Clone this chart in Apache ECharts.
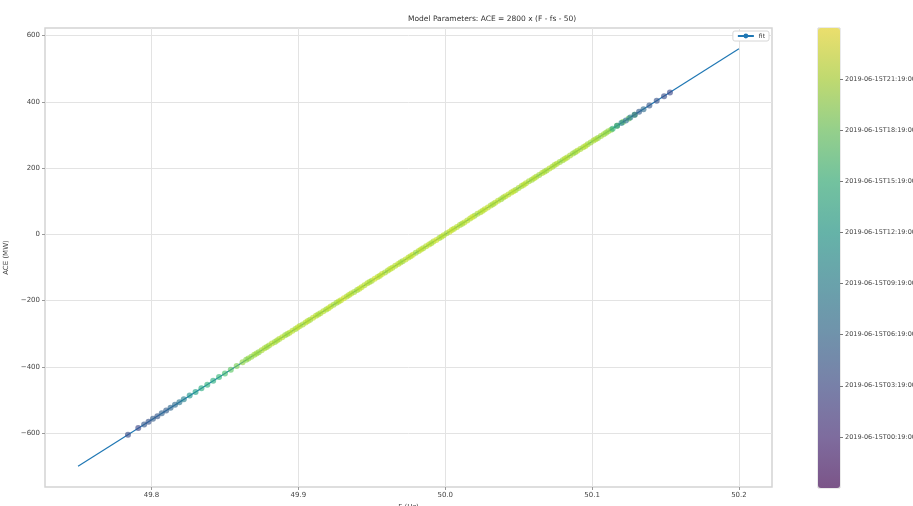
<!DOCTYPE html>
<html>
<head>
<meta charset="utf-8">
<script src="https://cdn.jsdelivr.net/npm/echarts@6/dist/echarts.min.js"></script>
<style>
  html, body { margin: 0; padding: 0; background: #fff; }
  #chart { width: 913px; height: 506px; }
</style>
</head>
<body>
<div id="chart"></div>
<script>
// Frequency readings (Hz), matching ACE values (MW) and hours since 2019-06-15T00:19:00.
// Points are listed in drawing order.
const freqHz = [
  // low-frequency tail
  49.784, 49.791, 49.795, 49.798, 49.801, 49.804, 49.807, 49.810, 49.813, 49.816,
  49.819, 49.822, 49.826, 49.830, 49.834, 49.838, 49.842, 49.846, 49.850, 49.854,
  49.858, 49.862,
  // main body
  49.866, 49.870, 49.873, 49.877, 49.880, 49.884, 49.887, 49.891, 49.894, 49.898,
  49.901, 49.905, 49.908, 49.912, 49.915, 49.919, 49.922, 49.926, 49.929, 49.933,
  49.936, 49.940, 49.943, 49.947, 49.950, 49.954, 49.957, 49.961, 49.964, 49.968,
  49.971, 49.975, 49.978, 49.982, 49.985, 49.989, 49.992, 49.996, 49.999, 50.003,
  50.006, 50.010, 50.013, 50.017, 50.020, 50.024, 50.027, 50.031, 50.034, 50.038,
  50.041, 50.045, 50.048, 50.052, 50.055, 50.059, 50.062, 50.066, 50.069, 50.073,
  50.076, 50.080, 50.083, 50.087, 50.090, 50.094, 50.097, 50.101, 50.104, 50.108,
  50.111,
  49.8645, 49.8680, 49.8715, 49.8750, 49.8785, 49.8820, 49.8855, 49.8890, 49.8925, 49.8960,
  49.8995, 49.9030, 49.9065, 49.9100, 49.9135, 49.9170, 49.9205, 49.9240, 49.9275, 49.9310,
  49.9345, 49.9380, 49.9415, 49.9450, 49.9485, 49.9520, 49.9555, 49.9590, 49.9625, 49.9660,
  49.9695, 49.9730, 49.9765, 49.9800, 49.9835, 49.9870, 49.9905, 49.9940, 49.9975, 50.0010,
  50.0045, 50.0080, 50.0115, 50.0150, 50.0185, 50.0220, 50.0255, 50.0290, 50.0325, 50.0360,
  50.0395, 50.0430, 50.0465, 50.0500, 50.0535, 50.0570, 50.0605, 50.0640, 50.0675, 50.0710,
  50.0745, 50.0780, 50.0815, 50.0850, 50.0885, 50.0920, 50.0955, 50.0990, 50.1025, 50.1060,
  50.1095, 50.1130, 50.1170, 50.1210, 50.1250, 50.1290,
  // high-frequency tail
  50.114, 50.117, 50.120, 50.123, 50.126, 50.129, 50.132, 50.135, 50.139, 50.144,
  50.149, 50.153
];
const aceMW = [
  -605, -585, -574, -566, -557, -549, -540, -532, -524, -515,
  -507, -498, -487, -476, -465, -454, -442, -431, -420, -409,
  -398, -386,
  -375, -364, -356, -344, -336, -325, -316, -305, -297, -286,
  -277, -266, -258, -246, -238, -227, -218, -207, -199, -188,
  -179, -168, -160, -148, -140, -129, -120, -109, -101, -90,
  -81, -70, -62, -50, -42, -31, -22, -11, -3, 8,
  17, 28, 36, 48, 56, 67, 76, 87, 95, 106,
  115, 126, 134, 146, 154, 165, 174, 185, 193, 204,
  213, 224, 232, 244, 252, 263, 272, 283, 291, 302,
  311,
  -379, -370, -360, -350, -340, -330, -321, -311, -301, -291,
  -281, -272, -262, -252, -242, -232, -223, -213, -203, -193,
  -183, -174, -164, -154, -144, -134, -125, -115, -105, -95,
  -85, -76, -66, -56, -46, -36, -27, -17, -7, 3,
  13, 22, 32, 42, 52, 62, 71, 81, 91, 101,
  111, 120, 130, 140, 150, 160, 169, 179, 189, 199,
  209, 218, 228, 238, 248, 258, 267, 277, 287, 297,
  307, 316, 328, 339, 350, 361,
  319, 328, 336, 344, 353, 361, 370, 378, 389, 403,
  417, 428
];
const hoursElapsed = [
  3.5, 3.0, 4.5, 4.0, 5.0, 4.5, 5.5, 5.0, 6.0, 6.5,
  7.5, 9.0, 11.0, 12.5, 13.5, 14.5, 14.0, 15.0, 16.0, 17.0,
  18.5, 19.5,
  19.5, 20.0, 19.0, 20.5, 20.0, 19.5, 20.5, 20.0, 21.0, 20.0,
  20.5, 21.0, 20.0, 21.0, 20.5, 20.0, 21.0, 20.0, 21.5, 20.5,
  21.0, 20.0, 21.5, 21.0, 20.5, 21.0, 22.0, 20.5, 21.0, 21.5,
  20.0, 21.0, 22.0, 21.0, 20.5, 21.5, 21.0, 20.0, 21.0, 22.0,
  21.0, 20.5, 21.5, 21.0, 20.0, 21.0, 21.5, 20.5, 21.0, 20.0,
  21.5, 21.0, 20.0, 20.5, 21.0, 20.0, 20.5, 21.0, 20.0, 20.5,
  21.0, 20.0, 20.5, 20.0, 21.0, 20.5, 20.0, 20.5, 19.5, 20.0,
  19.5,
  19.0, 19.5, 20.0, 20.5, 20.0, 21.0, 20.5, 21.0, 20.0, 21.0,
  21.5, 20.5, 21.0, 21.5, 20.5, 21.0, 21.5, 20.5, 21.0, 22.0,
  21.0, 20.5, 21.5, 21.0, 20.5, 22.0, 21.0, 20.5, 21.5, 21.0,
  20.5, 21.5, 21.0, 20.0, 21.5, 21.0, 20.5, 22.0, 21.0, 20.5,
  21.5, 21.0, 20.5, 21.0, 22.0, 20.5, 21.0, 21.5, 20.5, 21.0,
  20.5, 21.0, 21.5, 20.5, 21.0, 20.5, 21.0, 20.0, 20.5, 21.0,
  20.5, 20.0, 21.0, 20.5, 20.0, 20.5, 21.0, 20.0, 20.5, 20.0,
  19.5, 19.5, 19.0, 18.5, 18.0, 17.0,
  14.0, 11.0, 9.0, 7.0, 8.0, 6.0, 5.0, 6.5, 4.5, 4.0,
  3.5, 3.0
];

// Model line ACE = 2800 x (F - 50), end points
const modelFreq = [49.75, 50.2];
const modelAce = [-700, 560];

// Tick labels
const xTicks = [49.8, 49.9, 50.0, 50.1, 50.2];
const xTickLabels = ['49.8', '49.9', '50.0', '50.1', '50.2'];
const yTicks = [-600, -400, -200, 0, 200, 400, 600];
const yTickLabels = ['\u2212600', '\u2212400', '\u2212200', '0', '200', '400', '600'];
const timeTicks = [0, 3, 6, 9, 12, 15, 18, 21];
const timeTickLabels = [
  '2019-06-15T00:19:00', '2019-06-15T03:19:00', '2019-06-15T06:19:00', '2019-06-15T09:19:00',
  '2019-06-15T12:19:00', '2019-06-15T15:19:00', '2019-06-15T18:19:00', '2019-06-15T21:19:00'
];

const points = freqHz.map((f, i) => [f, aceMW[i], hoursElapsed[i]]);
const linePoints = modelFreq.map((f, i) => [f, modelAce[i]]);

const viridis = ['#440154', '#482878', '#3e4a89', '#31688e', '#26828e',
                 '#1f9e89', '#35b779', '#6ece58', '#b5de2b', '#fde725'];
function withAlpha(hex, a) {
  const n = parseInt(hex.slice(1), 16);
  return 'rgba(' + (n >> 16) + ',' + ((n >> 8) & 255) + ',' + (n & 255) + ',' + a + ')';
}

const labelFont = { fontFamily: 'DejaVu Sans', fontSize: 7, color: '#444' };

const chart = echarts.init(document.getElementById('chart'), null, { renderer: 'canvas' });
chart.setOption({
  animation: false,
  backgroundColor: '#fff',
  graphic: [{
    type: 'text', left: 408, top: 15,
    style: {
      text: 'Model Parameters: ACE = 2800 x (F - fs - 50)',
      fontFamily: 'DejaVu Sans', fontSize: 7.5, fill: '#333', textAlign: 'center'
    }
  }],
  legend: {
    data: ['fit'],
    right: 144, top: 31,
    itemWidth: 16, itemHeight: 6, itemGap: 4,
    padding: [2, 4],
    borderColor: '#d6d6d6', borderWidth: 1, borderRadius: 2,
    backgroundColor: '#fff',
    textStyle: { fontFamily: 'DejaVu Sans', fontSize: 6, color: '#333' }
  },
  grid: [
    { left: 45, right: 141, top: 28, bottom: 19, show: true, borderColor: '#d4d4d4', borderWidth: 1.5,
      containLabel: false, outerBoundsMode: 'none' },
    { left: 818, width: 22, top: 28, height: 460, show: true, borderColor: '#bbb', borderWidth: 0.6,
      containLabel: false, outerBoundsMode: 'none' }
  ],
  xAxis: [{
    type: 'value', gridIndex: 0,
    min: 49.7275, max: 50.2225,
    name: 'F (Hz)', nameLocation: 'middle', nameGap: 16,
    nameTextStyle: labelFont,
    axisLine: { show: false, onZero: false },
    axisTick: { show: true, customValues: xTicks, length: 3, lineStyle: { color: '#999' } },
    axisLabel: {
      customValues: xTicks, margin: 5, ...labelFont,
      formatter: v => { const i = xTicks.findIndex(t => Math.abs(t - v) < 1e-9); return i >= 0 ? xTickLabels[i] : ''; }
    },
    splitLine: { show: true, lineStyle: { color: '#e3e3e3', width: 1 } }
  }, {
    type: 'value', gridIndex: 1, min: 0, max: 1, show: false
  }],
  yAxis: [{
    type: 'value', gridIndex: 0,
    min: -763, max: 623,
    name: 'ACE (MW)', nameLocation: 'middle', nameGap: 31, nameRotate: 90,
    nameTextStyle: labelFont,
    axisLine: { show: false, onZero: false },
    axisTick: { show: true, customValues: yTicks, length: 3, lineStyle: { color: '#999' } },
    axisLabel: {
      customValues: yTicks, margin: 5, ...labelFont,
      formatter: v => { const i = yTicks.indexOf(v); return i >= 0 ? yTickLabels[i] : ''; }
    },
    splitLine: { show: true, lineStyle: { color: '#e3e3e3', width: 1 } }
  }, {
    type: 'value', gridIndex: 1, position: 'right',
    min: -3, max: 24,
    axisLine: { show: false, onZero: false },
    axisTick: { show: true, customValues: timeTicks, length: 3, lineStyle: { color: '#777' } },
    axisLabel: {
      customValues: timeTicks, margin: 5,
      fontFamily: 'DejaVu Sans', fontSize: 6.5, color: '#444',
      formatter: v => { const i = timeTicks.indexOf(v); return i >= 0 ? timeTickLabels[i] : ''; }
    },
    splitLine: { show: false }
  }],
  visualMap: [{
    // colour bar on the right (drawn for the empty key series)
    type: 'continuous',
    min: -3, max: 24,
    dimension: 2,
    seriesIndex: 2,
    left: 818, top: 28,
    itemWidth: 22, itemHeight: 460,
    padding: 0,
    calculable: false,
    realtime: false,
    hoverLink: false,
    text: null,
    inRange: { color: viridis.map(c => withAlpha(c, 0.6)) }
  }, {
    // colouring of the measured points
    type: 'continuous',
    show: false,
    min: -3, max: 24,
    dimension: 2,
    seriesIndex: 1,
    inRange: { color: viridis.map(c => withAlpha(c, 0.8)) }
  }],
  series: [{
    name: 'fit',
    type: 'line',
    xAxisIndex: 0, yAxisIndex: 0,
    data: linePoints,
    showSymbol: false, symbol: 'none',
    lineStyle: { color: '#1f77b4', width: 1.2 },
    itemStyle: { color: '#1f77b4' },
    z: 2
  }, {
    name: 'ACE',
    type: 'scatter',
    xAxisIndex: 0, yAxisIndex: 0,
    data: points,
    symbolSize: 6,
    z: 3
  }, {
    name: 'time key',
    type: 'scatter',
    xAxisIndex: 1, yAxisIndex: 1,
    data: [],
    silent: true
  }]
});
</script>
</body>
</html>
